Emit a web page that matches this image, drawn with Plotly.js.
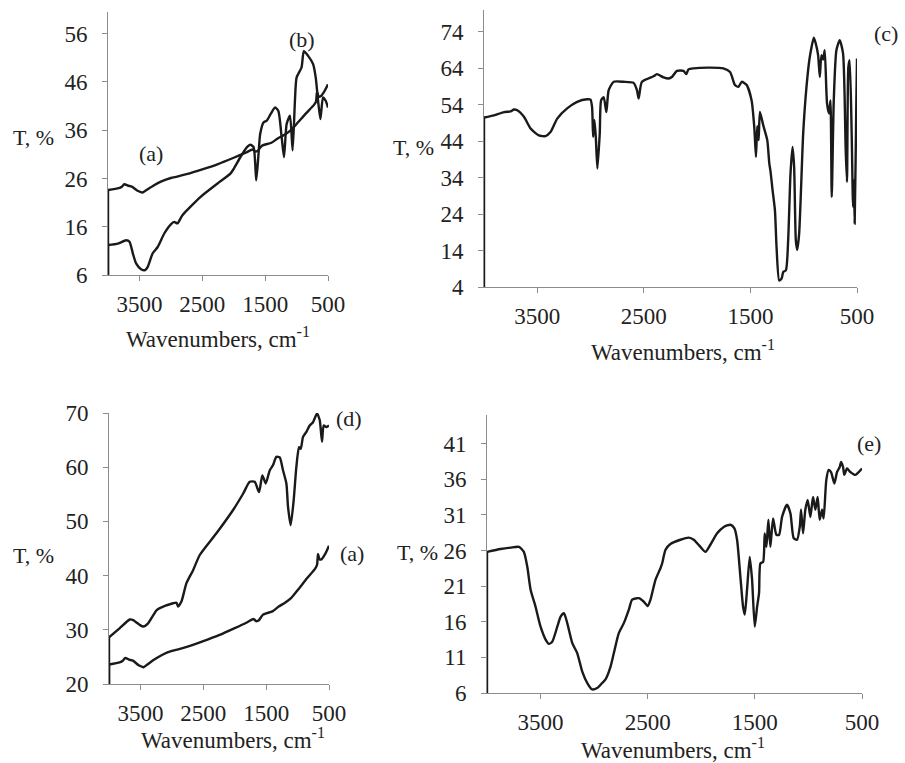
<!DOCTYPE html>
<html>
<head>
<meta charset="utf-8">
<script src="https://cdn.plot.ly/plotly-3.0.1.min.js"></script>
<style>
  html, body { margin: 0; padding: 0; background: #fff; }
  #chart { width: 905px; height: 763px; }
</style>
</head>
<body>
<div id="chart"></div>
<script>
// FTIR transmittance spectra, T (%) vs wavenumber (cm-1).
// Each record begins at 4000 cm-1 with a 0 % reading, then the measured trace.

// (a) – shared by the top-left and bottom-left panels
const wnA = [4000, 4000, 3830, 3780, 3740, 3680, 3620, 3520, 3450, 3400, 3280, 3150, 3000, 2900, 2750, 2500, 2250, 2000, 1800, 1700, 1660, 1620, 1550, 1400, 1300, 1200, 1100, 1000, 850, 720, 690, 675, 650, 620, 560, 500];
const tA  = [0, 23.6, 24.0, 24.3, 24.8, 24.5, 24.3, 23.4, 23.1, 23.5, 24.5, 25.4, 26.1, 26.4, 26.9, 27.9, 29.0, 30.3, 31.4, 32.0, 31.6, 31.7, 32.8, 33.4, 34.3, 35.0, 35.9, 37.3, 39.5, 41.3, 42.0, 44.0, 43.0, 43.0, 44.0, 45.5];

// (b) – top-left panel
const wnB = [4000, 4000, 3842, 3710, 3658, 3605, 3553, 3474, 3410, 3368, 3289, 3210, 3105, 3000, 2947, 2895, 2816, 2526, 2263, 2053, 2000, 1895, 1789, 1737, 1684, 1642, 1605, 1579, 1526, 1474, 1411, 1342, 1290, 1237, 1200, 1158, 1105, 1063, 1026, 1000, 921, 884, 816, 737, 695, 658, 621, 579, 537, 500];
const tB  = [0, 12.2, 12.5, 13.2, 12.9, 10.5, 8.4, 7.2, 7.0, 7.7, 10.5, 11.8, 14.6, 16.5, 17.0, 16.7, 18.4, 22.2, 24.9, 27.0, 28.0, 30.4, 32.5, 33.0, 32.5, 25.6, 31.1, 35.2, 37.6, 38.0, 39.4, 40.7, 40.0, 34.5, 30.4, 37.3, 39.0, 31.8, 42.1, 46.9, 49.0, 52.4, 51.4, 49.7, 46.9, 42.1, 38.3, 42.8, 42.1, 40.7];

// (c) – top-right panel
const wnC = [4000, 4000, 3906, 3812, 3750, 3719, 3688, 3625, 3563, 3485, 3423, 3376, 3313, 3220, 3126, 3033, 3001, 2986, 2976, 2964, 2951, 2936, 2914, 2901, 2877, 2852, 2830, 2783, 2690, 2596, 2565, 2549, 2518, 2409, 2378, 2315, 2268, 2237, 2190, 2128, 2103, 2081, 2035, 1879, 1754, 1691, 1645, 1613, 1582, 1535, 1489, 1464, 1448, 1436, 1423, 1411, 1380, 1342, 1323, 1311, 1292, 1270, 1255, 1230, 1208, 1192, 1167, 1146, 1124, 1105, 1090, 1074, 1061, 1043, 1005, 974, 943, 905, 887, 865, 849, 834, 818, 803, 781, 762, 749, 737, 718, 693, 662, 631, 606, 594, 581, 569, 550, 537, 528, 522, 506, 500];
const tC  = [0, 50.5, 51.1, 52.0, 52.2, 52.7, 52.5, 50.7, 47.5, 45.6, 45.4, 46.5, 50.2, 53.0, 54.8, 55.5, 55.4, 53.4, 45.2, 49.8, 45.2, 36.5, 46.1, 55.2, 56.1, 52.0, 58.0, 60.3, 60.3, 60.0, 58.0, 55.7, 60.3, 61.8, 62.4, 61.5, 61.2, 61.6, 63.3, 63.3, 62.4, 63.7, 64.0, 64.2, 64.0, 63.0, 59.4, 58.9, 60.3, 59.4, 55.2, 47.9, 39.7, 48.1, 44.3, 52.0, 48.4, 44.3, 37.9, 35.6, 30.5, 25.0, 15.0, 5.8, 6.3, 8.1, 8.6, 16.8, 35.1, 42.4, 37.0, 16.8, 14.2, 18.6, 46.1, 58.9, 67.1, 72.4, 70.8, 67.6, 61.6, 67.6, 66.4, 69.0, 54.3, 51.6, 55.2, 28.7, 55.2, 69.0, 71.7, 68.1, 41.5, 32.8, 64.4, 66.2, 46.1, 26.0, 33.3, 21.4, 55.2, 66.7];

// (d) – bottom-left panel
const wnD = [4000, 4000, 3828, 3669, 3616, 3510, 3457, 3378, 3245, 3192, 2980, 2927, 2901, 2848, 2768, 2662, 2556, 2291, 2026, 1867, 1761, 1682, 1613, 1560, 1507, 1443, 1390, 1337, 1284, 1231, 1178, 1152, 1110, 1062, 1019, 977, 950, 913, 860, 807, 754, 728, 691, 648, 611, 585, 542, 500];
const tD  = [0, 28.6, 30.3, 31.9, 31.8, 30.9, 30.6, 31.2, 33.6, 34.0, 34.9, 35.0, 34.3, 35.2, 38.6, 41.0, 43.8, 47.8, 52.1, 55.1, 57.3, 57.3, 55.4, 58.5, 57.0, 59.4, 60.4, 61.9, 61.8, 59.4, 57.0, 52.7, 49.3, 53.9, 60.1, 63.7, 63.4, 65.6, 66.5, 67.7, 68.3, 69.0, 69.9, 68.7, 64.7, 67.7, 67.4, 67.7];

// (e) – bottom-right panel
const wnE = [4000, 4000, 3874, 3780, 3702, 3656, 3624, 3593, 3547, 3500, 3453, 3422, 3391, 3344, 3313, 3282, 3251, 3204, 3158, 3111, 3064, 3018, 2972, 2925, 2894, 2847, 2816, 2770, 2723, 2676, 2645, 2583, 2536, 2499, 2474, 2427, 2381, 2365, 2334, 2288, 2195, 2117, 2070, 2008, 1961, 1915, 1852, 1790, 1728, 1691, 1666, 1635, 1610, 1594, 1573, 1548, 1526, 1501, 1479, 1461, 1448, 1423, 1408, 1392, 1374, 1355, 1330, 1299, 1274, 1246, 1200, 1168, 1137, 1106, 1081, 1069, 1050, 1029, 1007, 982, 957, 935, 914, 895, 873, 858, 833, 811, 789, 758, 733, 708, 696, 677, 665, 640, 609, 562, 531, 500];
const tE  = [0, 25.8, 26.2, 26.4, 26.5, 25.8, 23.7, 20.5, 18.1, 15.3, 13.5, 12.9, 13.2, 15.3, 16.7, 17.2, 15.8, 13.0, 11.6, 9.0, 7.4, 6.5, 6.7, 7.4, 7.9, 9.7, 11.6, 14.4, 15.8, 17.7, 19.1, 19.3, 18.8, 18.2, 19.1, 21.9, 23.5, 24.2, 26.1, 26.9, 27.5, 27.8, 27.5, 26.5, 25.8, 26.8, 28.4, 29.3, 29.6, 29.1, 27.5, 22.3, 18.1, 17.0, 20.5, 25.1, 21.9, 15.3, 18.1, 20.0, 24.2, 24.4, 28.4, 26.5, 30.3, 26.5, 30.5, 28.2, 28.2, 30.7, 32.4, 31.2, 27.7, 27.5, 29.3, 31.7, 28.4, 31.7, 33.1, 30.7, 33.5, 31.7, 33.5, 30.3, 31.7, 30.5, 35.9, 37.3, 37.0, 35.4, 37.0, 37.7, 38.4, 37.7, 36.6, 37.5, 37.0, 36.6, 37.0, 37.5];

// shared x tick labels
const xTicks = [3500, 2500, 1500, 500];
const xTickText = ['3500', '2500', '1500', '500'];

const W = 905, H = 763;
const FONT = '"Liberation Serif", "Times New Roman", serif';
const INK = '#222222';
const AXIS = '#8c8c8c';

// panel boxes in pixels: [left, right, top, bottom]
const boxes = {
  A: [108, 328, 12, 275],
  B: [484, 857, 10, 287],
  C: [109, 329, 413, 684],
  D: [487, 862, 415, 693]
};
const dx = b => [b[0] / W, b[1] / W];
const dy = b => [1 - b[3] / H, 1 - b[2] / H];

function xAxis(box, anchor) {
  return {
    domain: dx(box), anchor: anchor,
    range: [4000, 500], autorange: false,
    tickmode: 'array', tickvals: xTicks, ticktext: xTickText,
    showline: true, linecolor: AXIS, linewidth: 1,
    ticks: 'outside', ticklen: 5, tickcolor: AXIS, tickwidth: 1,
    ticklabelstandoff: 3,
    showgrid: false, zeroline: false,
    tickfont: { family: FONT, size: 23, color: INK }
  };
}
function yAxis(box, anchor, lo, hi, step) {
  return {
    domain: dy(box), anchor: anchor,
    range: [lo, hi], autorange: false,
    tick0: lo, dtick: step,
    showline: true, linecolor: AXIS, linewidth: 1,
    ticks: 'outside', ticklen: 5, tickcolor: AXIS, tickwidth: 1,
    ticklabelstandoff: 10,
    showgrid: false, zeroline: false,
    tickfont: { family: FONT, size: 23, color: INK }
  };
}

const INKLINE = '#1a1a1a';
// each spectrum: straight lead-in from the 0 % reading, then the smoothed trace
function spectrum(wn, t, xa, ya, name) {
  return [
    { x: wn.slice(0, 2), y: t.slice(0, 2), xaxis: xa, yaxis: ya, name: name,
      type: 'scatter', mode: 'lines', hoverinfo: 'skip',
      line: { color: INKLINE, width: 2.4 } },
    { x: wn.slice(1), y: t.slice(1), xaxis: xa, yaxis: ya, name: name,
      type: 'scatter', mode: 'lines', hoverinfo: 'skip',
      line: { color: INKLINE, width: 2.4, shape: 'spline', smoothing: 0.6 } }
  ];
}
const traces = [].concat(
  spectrum(wnA, tA, 'x',  'y',  '(a)'),
  spectrum(wnB, tB, 'x',  'y',  '(b)'),
  spectrum(wnC, tC, 'x2', 'y2', '(c)'),
  spectrum(wnD, tD, 'x3', 'y3', '(d)'),
  spectrum(wnA, tA, 'x3', 'y3', '(a)'),
  spectrum(wnE, tE, 'x4', 'y4', '(e)')
);

function txt(text, xpx, ypx, xanchor, size) {
  return {
    text: text, xref: 'paper', yref: 'paper',
    x: xpx / W, y: 1 - ypx / H,
    xanchor: xanchor || 'center', yanchor: 'middle',
    showarrow: false,
    font: { family: FONT, size: size || 23, color: INK }
  };
}
const xTitle = 'Wavenumbers, cm<sup>-1</sup>';

const layout = {
  width: W, height: H,
  margin: { l: 0, r: 0, t: 0, b: 0 },
  paper_bgcolor: '#ffffff', plot_bgcolor: '#ffffff',
  showlegend: false,
  xaxis:  xAxis(boxes.A, 'y'),
  yaxis:  yAxis(boxes.A, 'x', 6, 60.5, 10),
  xaxis2: xAxis(boxes.B, 'y2'),
  yaxis2: yAxis(boxes.B, 'x2', 4, 80, 10),
  xaxis3: xAxis(boxes.C, 'y3'),
  yaxis3: yAxis(boxes.C, 'x3', 20, 70, 10),
  xaxis4: xAxis(boxes.D, 'y4'),
  yaxis4: yAxis(boxes.D, 'x4', 6, 45, 5),
  annotations: [
    txt('T, %', 56, 138, 'right', 22),
    txt('T, %', 436, 148, 'right', 22),
    txt('T, %', 56, 555, 'right', 22),
    txt('T, %', 440, 552, 'right', 22),
    txt(xTitle, 218, 337),
    txt(xTitle, 683, 350),
    txt(xTitle, 233, 738),
    txt(xTitle, 673, 748),
    txt('(a)', 151, 153, 'center', 22),
    txt('(b)', 302, 39, 'center', 22),
    txt('(c)', 886, 33, 'center', 22),
    txt('(d)', 349, 418, 'center', 22),
    txt('(a)', 352, 553, 'center', 22),
    txt('(e)', 869, 443, 'center', 22)
  ]
};

Plotly.newPlot('chart', traces, layout, { staticPlot: true, displayModeBar: false });
</script>
</body>
</html>
